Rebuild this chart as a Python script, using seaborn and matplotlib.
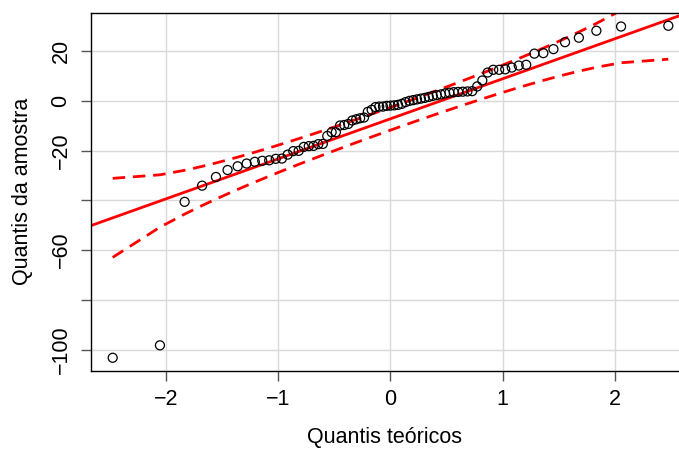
import numpy as np
import pandas as pd
import seaborn as sns
import matplotlib
matplotlib.use("Agg")
import matplotlib.pyplot as plt
from statistics import NormalDist

amostra = [-103.3, -98.3, -40.6, -34.1, -30.6, -27.8, -26.3, -25.2, -24.5, -24.1,
           -23.9, -23.3, -23.2, -21.6, -20.2, -20.1, -18.5, -18.2, -18.1, -17.4,
           -17.3, -14.1, -12.6, -12.6, -9.9, -9.7, -9.3, -7.9, -7.4, -7.0,
           -6.7, -4.4, -3.6, -2.5, -2.3, -2.3, -2.0, -1.9, -1.8, -1.6,
           -1.2, -0.5, 0.0, 0.3, 0.6, 0.9, 1.2, 1.6, 2.0, 2.3,
           2.6, 3.0, 3.3, 3.5, 3.6, 3.7, 3.8, 3.9, 5.8, 8.2,
           11.4, 12.5, 12.5, 12.7, 13.4, 14.2, 14.5, 19.0, 19.2, 20.8,
           23.6, 25.4, 28.2, 29.9, 30.2]

# Reference line
line_intercept = -7.2
line_slope = 16.1

y_ticks = [-100, -80, -60, -40, -20, 0, 20]
y_ticklabels = ["\u2212100", "", "\u221260", "", "\u221220", "0", "20"]
x_ticks = [-2, -1, 0, 1, 2]
x_ticklabels = ["\u22122", "\u22121", "0", "1", "2"]

# theoretical quantiles and 95% pointwise envelope (as in car::qqPlot)
n = len(amostra)
nd = NormalDist()
p = (np.arange(1, n + 1) - 0.5) / n
z = np.array([nd.inv_cdf(v) for v in p])
dens = np.array([nd.pdf(v) for v in z])
se = (line_slope / dens) * np.sqrt(p * (1 - p) / n)
fit = line_intercept + line_slope * z
df = pd.DataFrame({"teorico": z, "amostra": amostra,
                   "sup": fit + 1.96 * se, "inf": fit - 1.96 * se})

plt.rcParams["font.family"] = ["Liberation Sans", "DejaVu Sans"]

fig = plt.figure(figsize=(6.79, 4.49), dpi=100)
ax = fig.add_axes([0.134, 0.1744, 0.866, 0.797])

ax.grid(True, color="#d9d9d9", linewidth=1.0)
ax.set_axisbelow(True)

ax.axline((0, line_intercept), slope=line_slope, color="red", lw=2, zorder=2)
sns.lineplot(data=df, x="teorico", y="sup", ax=ax, color="red", lw=2,
             linestyle=(0, (4.5, 2.8)), zorder=2)
sns.lineplot(data=df, x="teorico", y="inf", ax=ax, color="red", lw=2,
             linestyle=(0, (4.5, 2.8)), zorder=2)
sns.scatterplot(data=df, x="teorico", y="amostra", ax=ax, s=42,
                facecolor="none", edgecolor="black", linewidth=0.9, zorder=3)

ax.set_xlim(-2.668, 2.57)
ax.set_ylim(-108.5, 35.4)
ax.set_xticks(x_ticks)
ax.set_xticklabels(x_ticklabels)
ax.set_yticks(y_ticks)
ax.set_yticklabels(y_ticklabels, rotation=90, va="center")
ax.tick_params(labelsize=15.5, length=7, width=1, color="#555555")
ax.tick_params(axis="x", pad=6)
ax.tick_params(axis="y", pad=7)

ax.set_xlabel("Quantis te\u00f3ricos", fontsize=15.5, va="center")
ax.set_ylabel("Quantis da amostra", fontsize=15.5, va="center")
ax.xaxis.set_label_coords(0.5, -0.188)
ax.yaxis.set_label_coords(-0.117, 0.5)

for s in ["left", "bottom", "top"]:
    ax.spines[s].set_color("black")
    ax.spines[s].set_linewidth(1.0)
ax.spines["right"].set_visible(False)

fig.savefig("out.png", dpi=100)
